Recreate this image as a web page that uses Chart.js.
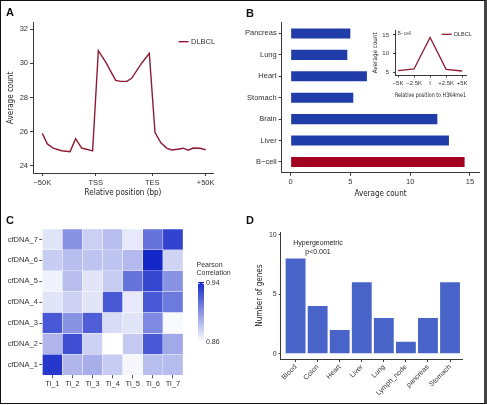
<!DOCTYPE html>
<html>
<head>
<meta charset="utf-8">
<script src="https://cdn.jsdelivr.net/npm/chart.js@4.4.0/dist/chart.umd.min.js"></script>
<style>
  html, body { margin: 0; padding: 0; background: #fff; }
  #fig { position: relative; width: 487px; height: 405px; overflow: hidden; font-family: 'Liberation Sans', Arial, sans-serif; }
  #fig canvas { position: absolute; left: 0; top: 0; }
  .frame { position: absolute; left: 0; top: 0; width: 487px; height: 404px; box-sizing: border-box; border: 1.5px solid #111; border-right: 3px solid #444; }
  .tag { position: absolute; font-weight: bold; font-size: 11px; line-height: 1; color: #111; }
</style>
</head>
<body>
<div id="fig">
  <canvas id="chartA" width="487" height="405"></canvas>
  <canvas id="chartB" width="487" height="405"></canvas>
  <canvas id="chartInset" width="487" height="405"></canvas>
  <canvas id="chartC" width="487" height="405"></canvas>
  <canvas id="chartD" width="487" height="405"></canvas>
  <div class="tag" style="left:6px;top:7px">A</div>
  <div class="tag" style="left:246px;top:8px">B</div>
  <div class="tag" style="left:6px;top:215px">C</div>
  <div class="tag" style="left:246px;top:215px">D</div>
  <div class="frame"></div>
</div>
<script>
// panel A - average read count around gene bodies
const profilePos = [-50, -46.9, -43.3, -38.1, -33, -29.6, -25.9, -19.2, -15.7, -11, -5.1, -2, 1.7, 4.7, 10.8, 15.5, 19, 22.6, 26.1, 29.2, 32.8, 36.3, 39.4, 42.4, 46.5, 50];
const profileCount = [25.91, 25.29, 25.04, 24.89, 24.84, 25.6, 25.05, 24.88, 30.74, 30.04, 29.01, 28.95, 28.95, 29.13, 30.01, 30.59, 25.95, 25.36, 25.05, 24.94, 24.98, 25.04, 24.92, 25.05, 25.04, 24.95];
const profileTicks = [-50, -17.3, 17.3, 50];
const profileTickLabels = ['\u221250K', 'TSS', 'TES', '+50K'];
const profileYTicks = [24, 26, 28, 30, 32];

// panel B - average count per tissue
const tissues = ['Pancreas', 'Lung', 'Heart', 'Stomach', 'Brain', 'Liver', 'B\u2212cell'];
const tissueCounts = [4.99, 4.74, 6.38, 5.24, 12.27, 13.24, 14.55];
const tissueTicks = [0, 5, 10, 15];

// panel B inset - around H3K4me1
const insetPos = [-5, -2.5, 0, 2.5, 5];
const insetCount = [5.53, 5.98, 14.3, 5.9, 5.45];
const insetTickLabels = ['\u22125K', '\u22122.5K', 'I', '+2.5K', '+5K'];
const insetYTicks = [5, 10, 15];

// panel C - pearson correlation, rows cfDNA_1..7, cols Ti_1..7
const tiLabels = ['Ti_1', 'Ti_2', 'Ti_3', 'Ti_4', 'Ti_5', 'Ti_6', 'Ti_7'];
const cfLabels = ['cfDNA_1', 'cfDNA_2', 'cfDNA_3', 'cfDNA_4', 'cfDNA_5', 'cfDNA_6', 'cfDNA_7'];
const corr = [
  [0.934, 0.887, 0.890, 0.879, 0.863, 0.884, 0.885],
  [0.887, 0.926, 0.877, 0.860, 0.880, 0.922, 0.892],
  [0.922, 0.900, 0.920, 0.873, 0.870, 0.904, 0.862],
  [0.870, 0.877, 0.870, 0.922, 0.868, 0.922, 0.910],
  [0.865, 0.884, 0.870, 0.879, 0.912, 0.928, 0.900],
  [0.879, 0.884, 0.882, 0.882, 0.886, 0.940, 0.876],
  [0.870, 0.900, 0.878, 0.884, 0.868, 0.912, 0.930]
];
const corrLow = 0.86, corrHigh = 0.94;

// panel D - number of genes per tissue
const geneTissues = ['Blood', 'Colon', 'Heart', 'Liver', 'Lung', 'Lymph_node', 'pancreas', 'Stomach'];
const geneCounts = [8, 4, 2, 6, 3, 1, 3, 6];
const geneTicks = [0, 5, 10];

const W = 487, H = 405;
const maroon = '#8e1b32';
const axisColor = '#3a3a3a';
const textColor = '#333';
const sans = "'Liberation Sans', Arial, sans-serif";
const narrow = "'Liberation Sans Narrow', 'DejaVu Sans Condensed', 'Liberation Sans', sans-serif";
const blueHigh = [20, 40, 200];

function corrColor(v) {
  let t = (v - corrLow) / (corrHigh - corrLow);
  t = Math.max(0, Math.min(1, t));
  const c = blueHigh.map(k => Math.round(255 + (k - 255) * t));
  return 'rgb(' + c.join(',') + ')';
}

// chart area placement on the shared full-size canvas
function box(x0, y0, x1, y1, wY, hX) {
  return { left: x0 - wY, top: y0, right: W - x1, bottom: H - y1 - hX };
}
function fit(size) {
  return function (scale) {
    if (scale.isHorizontal()) scale.height = size; else scale.width = size;
    scale.paddingLeft = scale.paddingRight = scale.paddingTop = scale.paddingBottom = 0;
  };
}
function setTicks(values) {
  return function (scale) { scale.ticks = values.map(v => ({ value: v })); };
}
function axis(opts) {
  return Object.assign({
    grid: { drawOnChartArea: false, drawTicks: true, tickLength: 3, color: axisColor, offset: false },
    border: { display: true, color: axisColor, width: 1 }
  }, opts);
}

const notes = {
  id: 'notes',
  afterDraw(chart, args, opts) {
    const ctx = chart.ctx;
    (opts.items || []).forEach(it => {
      ctx.save();
      if (it.line) {
        ctx.strokeStyle = it.color; ctx.lineWidth = it.width || 1.4;
        ctx.beginPath(); ctx.moveTo(it.line[0], it.line[1]); ctx.lineTo(it.line[2], it.line[3]); ctx.stroke();
      } else if (it.gradient) {
        const [x, y, w, h] = it.gradient;
        const g = ctx.createLinearGradient(0, y, 0, y + h);
        g.addColorStop(0, it.top); g.addColorStop(1, it.bottom);
        ctx.fillStyle = g; ctx.fillRect(x, y, w, h);
        ctx.strokeStyle = '#fff'; ctx.lineWidth = 1;
        ctx.beginPath();
        ctx.moveTo(x, y + 1.5); ctx.lineTo(x + 1.5, y + 1.5);
        ctx.moveTo(x + w - 1.5, y + 1.5); ctx.lineTo(x + w, y + 1.5);
        ctx.stroke();
      } else {
        ctx.font = it.font; ctx.fillStyle = it.color || textColor;
        ctx.textAlign = it.align || 'left'; ctx.textBaseline = 'middle';
        ctx.fillText(it.text, it.x, it.y);
      }
      ctx.restore();
    });
  }
};
Chart.register(notes);

const base = { responsive: false, animation: false, events: [] };

// ---- A
new Chart(document.getElementById('chartA'), {
  type: 'line',
  data: {
    datasets: [{
      label: 'DLBCL',
      data: profilePos.map((x, i) => ({ x: x, y: profileCount[i] })),
      borderColor: maroon, borderWidth: 1.4, pointRadius: 0, tension: 0
    }]
  },
  options: Object.assign({}, base, {
    layout: { padding: box(33, 22.7, 213, 173, 26, 24.3) },
    plugins: {
      legend: { display: false }, tooltip: { enabled: false },
      notes: { items: [
        { line: [178.5, 41.7, 188.5, 41.7], color: maroon },
        { text: 'DLBCL', x: 191, y: 42, font: '7.5px ' + sans }
      ] }
    },
    scales: {
      x: axis({
        type: 'linear', min: -55.7, max: 54.5,
        afterFit: fit(24.3), afterBuildTicks: setTicks(profileTicks),
        ticks: { callback: (v, i) => profileTickLabels[i], font: { family: sans, size: 7.5 }, color: textColor, padding: 2, maxRotation: 0, autoSkip: false },
        title: { display: true, text: 'Relative position (bp)', font: { family: narrow, size: 8, lineHeight: 1 }, padding: 0, color: '#222' }
      }),
      y: axis({
        min: 23.59, max: 32.38,
        afterFit: fit(26), afterBuildTicks: setTicks(profileYTicks),
        ticks: { font: { family: sans, size: 7.5 }, color: textColor, padding: 2 },
        title: { display: true, text: 'Average count', font: { family: narrow, size: 8, lineHeight: 1 }, padding: 0, color: '#222' }
      })
    }
  })
});

// ---- B
new Chart(document.getElementById('chartB'), {
  type: 'bar',
  data: {
    labels: tissues,
    datasets: [{
      data: tissueCounts,
      backgroundColor: tissues.map(t => t === 'B\u2212cell' ? '#a3001f' : '#1f3ca8'),
      barPercentage: 0.47, categoryPercentage: 1
    }]
  },
  options: Object.assign({}, base, {
    indexAxis: 'y',
    layout: { padding: box(281.7, 22.7, 479.3, 172.7, 40, 25.6) },
    plugins: { legend: { display: false }, tooltip: { enabled: false } },
    scales: {
      x: axis({
        type: 'linear', min: -0.75, max: 15.78,
        afterFit: fit(25.6), afterBuildTicks: setTicks(tissueTicks),
        ticks: { font: { family: sans, size: 7.5 }, color: textColor, padding: 2, maxRotation: 0 },
        title: { display: true, text: 'Average count', font: { family: narrow, size: 8, lineHeight: 1 }, padding: 0, color: '#222' }
      }),
      y: axis({
        afterFit: fit(40),
        ticks: { font: { family: sans, size: 7.5 }, color: textColor, padding: 2 }
      })
    }
  })
});

// ---- B inset
new Chart(document.getElementById('chartInset'), {
  type: 'line',
  data: {
    datasets: [{
      label: 'DLBCL',
      data: insetPos.map((x, i) => ({ x: x, y: insetCount[i] })),
      borderColor: maroon, borderWidth: 1.3, pointRadius: 0, tension: 0
    }]
  },
  options: Object.assign({}, base, {
    layout: { padding: box(395, 30, 466, 75.5, 22.5, 23.5) },
    plugins: {
      legend: { display: false }, tooltip: { enabled: false },
      notes: { items: [
        { text: 'B\u2212cell', x: 397.5, y: 33.5, font: '5px ' + sans, color: '#555' },
        { line: [441.7, 34.3, 451.7, 34.3], color: maroon, width: 1.3 },
        { text: 'DLBCL', x: 454, y: 34.5, font: '5.5px ' + sans }
      ] }
    },
    scales: {
      x: axis({
        type: 'linear', min: -5.47, max: 5.6,
        afterFit: fit(23.5), afterBuildTicks: setTicks(insetPos),
        grid: { drawOnChartArea: false, drawTicks: true, tickLength: 2, color: axisColor },
        ticks: { callback: (v, i) => insetTickLabels[i], font: { family: sans, size: 6 }, color: textColor, padding: 2, maxRotation: 0, autoSkip: false },
        title: { display: true, text: 'Relative position to H3K4me1', font: { family: narrow, size: 6.3, lineHeight: 1 }, padding: 0, color: '#222' }
      }),
      y: axis({
        min: 4.26, max: 16.3,
        afterFit: fit(22.5), afterBuildTicks: setTicks(insetYTicks),
        grid: { drawOnChartArea: false, drawTicks: true, tickLength: 2, color: axisColor },
        ticks: { font: { family: sans, size: 6 }, color: textColor, padding: 4 },
        title: { display: true, text: 'Average count', font: { family: narrow, size: 6.3, lineHeight: 1 }, padding: 0, color: '#222' }
      })
    }
  })
});

// ---- C heatmap: each cell is a floating bar spanning one row
new Chart(document.getElementById('chartC'), {
  type: 'bar',
  data: {
    labels: tiLabels,
    datasets: cfLabels.map((name, r) => ({
      label: name,
      data: tiLabels.map(() => [r, r + 1]),
      backgroundColor: corr[r].map(corrColor),
      borderColor: 'rgba(255,255,255,0.6)', borderWidth: 0.5, borderSkipped: false,
      grouped: false, barPercentage: 1, categoryPercentage: 1
    }))
  },
  options: Object.assign({}, base, {
    layout: { padding: box(42.3, 229, 183, 375.3, 42, 20) },
    plugins: {
      legend: { display: false }, tooltip: { enabled: false },
      notes: { items: [
        { text: 'Pearson', x: 196.5, y: 265, font: '7px ' + sans },
        { text: 'Correlation', x: 196.5, y: 273.3, font: '7px ' + sans },
        { gradient: [198, 282, 6, 60], top: corrColor(corrHigh), bottom: corrColor(corrLow) },
        { text: corrHigh.toFixed(2), x: 206, y: 283.5, font: '7px ' + sans },
        { text: corrLow.toFixed(2), x: 206, y: 341.7, font: '7px ' + sans }
      ] }
    },
    scales: {
      x: {
        offset: true,
        afterFit: fit(20),
        grid: { drawOnChartArea: false, drawTicks: true, tickLength: 3, color: '#555', offset: false },
        border: { display: false },
        ticks: { font: { family: sans, size: 7.5 }, color: textColor, padding: 1.5, maxRotation: 0 }
      },
      y: {
        min: 0, max: 7,
        afterFit: fit(42), afterBuildTicks: setTicks(cfLabels.map((n, i) => i + 0.5)),
        grid: { drawOnChartArea: false, drawTicks: true, tickLength: 3, color: '#555' },
        border: { display: false },
        ticks: { callback: (v, i) => cfLabels[i], font: { family: sans, size: 7.5 }, color: textColor, padding: 1.5 }
      }
    }
  })
});

// ---- D
new Chart(document.getElementById('chartD'), {
  type: 'bar',
  data: {
    datasets: [{
      data: geneCounts.map((v, i) => ({ x: i + 1, y: v })),
      backgroundColor: '#4864c8',
      barPercentage: 0.9, categoryPercentage: 1
    }]
  },
  options: Object.assign({}, base, {
    layout: { padding: box(280.7, 232.3, 462.7, 359, 24.7, 40) },
    plugins: {
      legend: { display: false }, tooltip: { enabled: false },
      notes: { items: [
        { text: 'Hypergeometric', x: 318, y: 243, font: '7px ' + sans, align: 'center', color: '#222' },
        { text: 'p<0.001', x: 318, y: 251.7, font: '7px ' + sans, align: 'center', color: '#222' }
      ] }
    },
    scales: {
      x: axis({
        type: 'linear', min: 0.325, max: 8.575, offset: false,
        afterFit: fit(40), afterBuildTicks: setTicks(geneTissues.map((n, i) => i + 1)),
        ticks: { callback: (v, i) => geneTissues[i], font: { family: sans, size: 7 }, color: textColor, padding: 1, minRotation: 45, maxRotation: 45, autoSkip: false }
      }),
      y: axis({
        min: -0.445, max: 10.2,
        afterFit: fit(24.7), afterBuildTicks: setTicks(geneTicks),
        grid: { drawOnChartArea: false, drawTicks: true, tickLength: 2, color: axisColor },
        ticks: { font: { family: sans, size: 7 }, color: textColor, padding: 2 },
        title: { display: true, text: 'Number of genes', font: { family: narrow, size: 8, lineHeight: 1 }, padding: 0, color: '#222' }
      })
    }
  })
});
</script>
</body>
</html>
